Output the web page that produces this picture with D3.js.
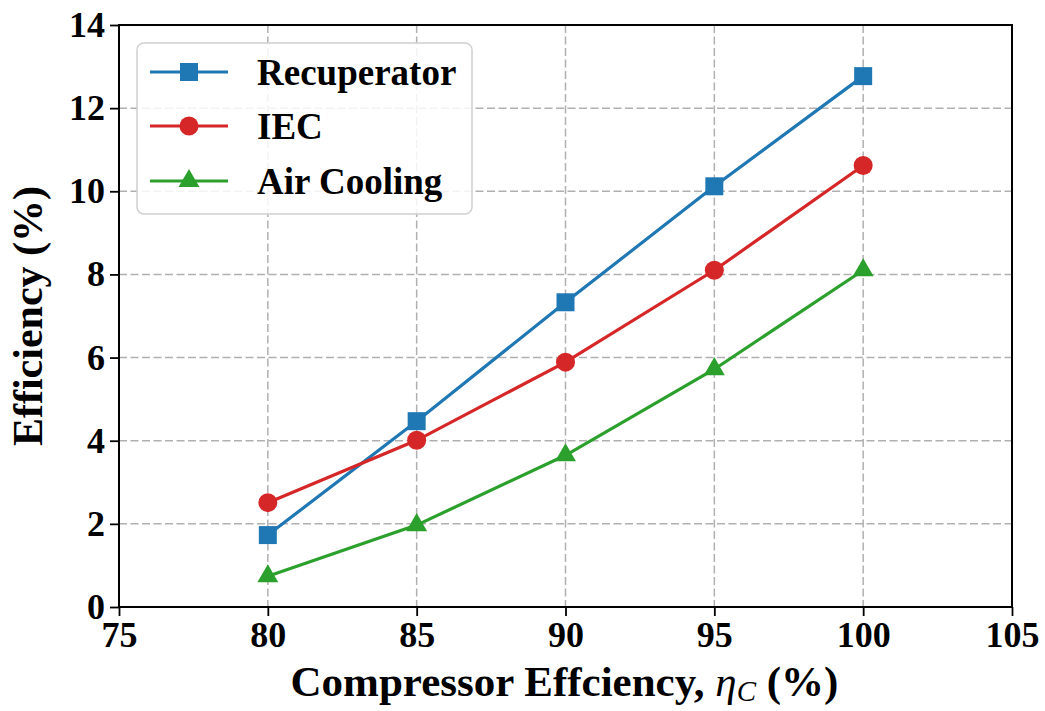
<!DOCTYPE html>
<html>
<head>
<meta charset="utf-8">
<script src="https://cdn.jsdelivr.net/npm/d3@7"></script>
<style>
  html, body { margin: 0; padding: 0; background: #fff; }
  svg { display: block; }
  text { font-family: "Liberation Serif", "Times New Roman", serif; font-weight: bold; }
</style>
</head>
<body>
<svg id="chart" width="1045" height="711"></svg>
<script>
// Compressor efficiency (%) on the x axis
const compressorEff = [80, 85, 90, 95, 100];
// Cycle efficiency (%) for each configuration
const recuperator = [1.73, 4.47, 7.33, 10.12, 12.77];
const iec = [2.51, 4.01, 5.89, 8.10, 10.62];
const airCooling = [0.74, 1.97, 3.65, 5.72, 8.10];

const xTicks = [75, 80, 85, 90, 95, 100, 105];
const yTicks = [0, 2, 4, 6, 8, 10, 12, 14];

const seriesNames = ["Recuperator", "IEC", "Air Cooling"];
const seriesColors = ["#1f77b4", "#d62728", "#2ca02c"];
const seriesMarkers = ["square", "circle", "triangle"];
const seriesValues = [recuperator, iec, airCooling];

const margin = { left: 119, right: 1012, top: 25, bottom: 607 };
const svg = d3.select("#chart");

const x = d3.scaleLinear().domain([75, 105]).range([margin.left, margin.right]);
const y = d3.scaleLinear().domain([0, 14]).range([margin.bottom, margin.top]);

// dashed grid
const grid = svg.append("g");
grid.selectAll("line.gx").data(xTicks).enter().append("line")
  .attr("x1", d => x(d)).attr("x2", d => x(d))
  .attr("y1", margin.top).attr("y2", margin.bottom)
  .attr("stroke", "#b0b0b0").attr("stroke-width", 1.5).attr("stroke-dasharray", "8,3.5");
grid.selectAll("line.gy").data(yTicks).enter().append("line")
  .attr("y1", d => y(d)).attr("y2", d => y(d))
  .attr("x1", margin.left).attr("x2", margin.right)
  .attr("stroke", "#b0b0b0").attr("stroke-width", 1.5).attr("stroke-dasharray", "8,3.5");

// axes
const xAxis = svg.append("g")
  .attr("transform", `translate(0,${margin.bottom})`)
  .call(d3.axisBottom(x).tickValues(xTicks).tickSize(9).tickPadding(5).tickFormat(d3.format("d")));
const yAxis = svg.append("g")
  .attr("transform", `translate(${margin.left},0)`)
  .call(d3.axisLeft(y).tickValues(yTicks).tickSize(9).tickPadding(5).tickFormat(d3.format("d")));
[xAxis, yAxis].forEach(a => {
  a.select(".domain").remove();
  a.selectAll(".tick line").attr("stroke", "#000").attr("stroke-width", 1.8);
  a.selectAll(".tick text").attr("fill", "#000").style("font-size", "36px");
});

// frame
svg.append("rect")
  .attr("x", margin.left).attr("y", margin.top)
  .attr("width", margin.right - margin.left).attr("height", margin.bottom - margin.top)
  .attr("fill", "none").attr("stroke", "#000").attr("stroke-width", 2);

// series lines and markers
const line = d3.line().x((d, i) => x(compressorEff[i])).y(d => y(d));
const symbolFor = m => m === "square" ? d3.symbolSquare : m === "circle" ? d3.symbolCircle : d3.symbolTriangle;
const symbolSize = m => m === "square" ? 18 * 18 : m === "circle" ? Math.PI * 9.5 * 9.5 : 190;

seriesValues.forEach((vals, s) => {
  svg.append("path").datum(vals)
    .attr("d", line)
    .attr("fill", "none")
    .attr("stroke", seriesColors[s])
    .attr("stroke-width", 3.2);
  svg.selectAll(null).data(vals).enter().append("path")
    .attr("transform", (d, i) => `translate(${x(compressorEff[i])},${y(d)})`)
    .attr("d", d3.symbol().type(symbolFor(seriesMarkers[s])).size(symbolSize(seriesMarkers[s])))
    .attr("fill", seriesColors[s]);
});

// legend
const legend = svg.append("g");
legend.append("rect")
  .attr("x", 137).attr("y", 43).attr("width", 335).attr("height", 171)
  .attr("rx", 7).attr("ry", 7)
  .attr("fill", "rgba(255,255,255,0.85)").attr("stroke", "#d0d0d0").attr("stroke-width", 1.5);
const rowY = [72, 126, 181];
seriesNames.forEach((name, s) => {
  const g = legend.append("g");
  g.append("line").attr("x1", 150).attr("x2", 228).attr("y1", rowY[s]).attr("y2", rowY[s])
    .attr("stroke", seriesColors[s]).attr("stroke-width", 3.2);
  g.append("path")
    .attr("transform", `translate(189,${rowY[s]})`)
    .attr("d", d3.symbol().type(symbolFor(seriesMarkers[s])).size(symbolSize(seriesMarkers[s])))
    .attr("fill", seriesColors[s]);
  g.append("text").attr("x", 257).attr("y", rowY[s]).attr("dy", "0.35em")
    .style("font-size", "37px").attr("fill", "#000").text(name);
});

// axis titles
const xt = svg.append("text")
  .attr("x", (margin.left + margin.right) / 2 - 1).attr("y", 696)
  .attr("text-anchor", "middle").style("font-size", "43px").attr("fill", "#000");
xt.append("tspan").text("Compressor Effciency, ");
xt.append("tspan").style("font-style", "italic").style("font-weight", "normal").text("η");
xt.append("tspan").style("font-style", "italic").style("font-weight", "normal")
  .style("font-size", "29px").attr("dy", 5).text("C");
xt.append("tspan").attr("dy", -5).text(" (%)");

svg.append("text")
  .attr("transform", `translate(42,${(margin.top + margin.bottom) / 2}) rotate(-90)`)
  .attr("text-anchor", "middle").style("font-size", "42px").attr("fill", "#000")
  .text("Efficiency (%)");
</script>
</body>
</html>
